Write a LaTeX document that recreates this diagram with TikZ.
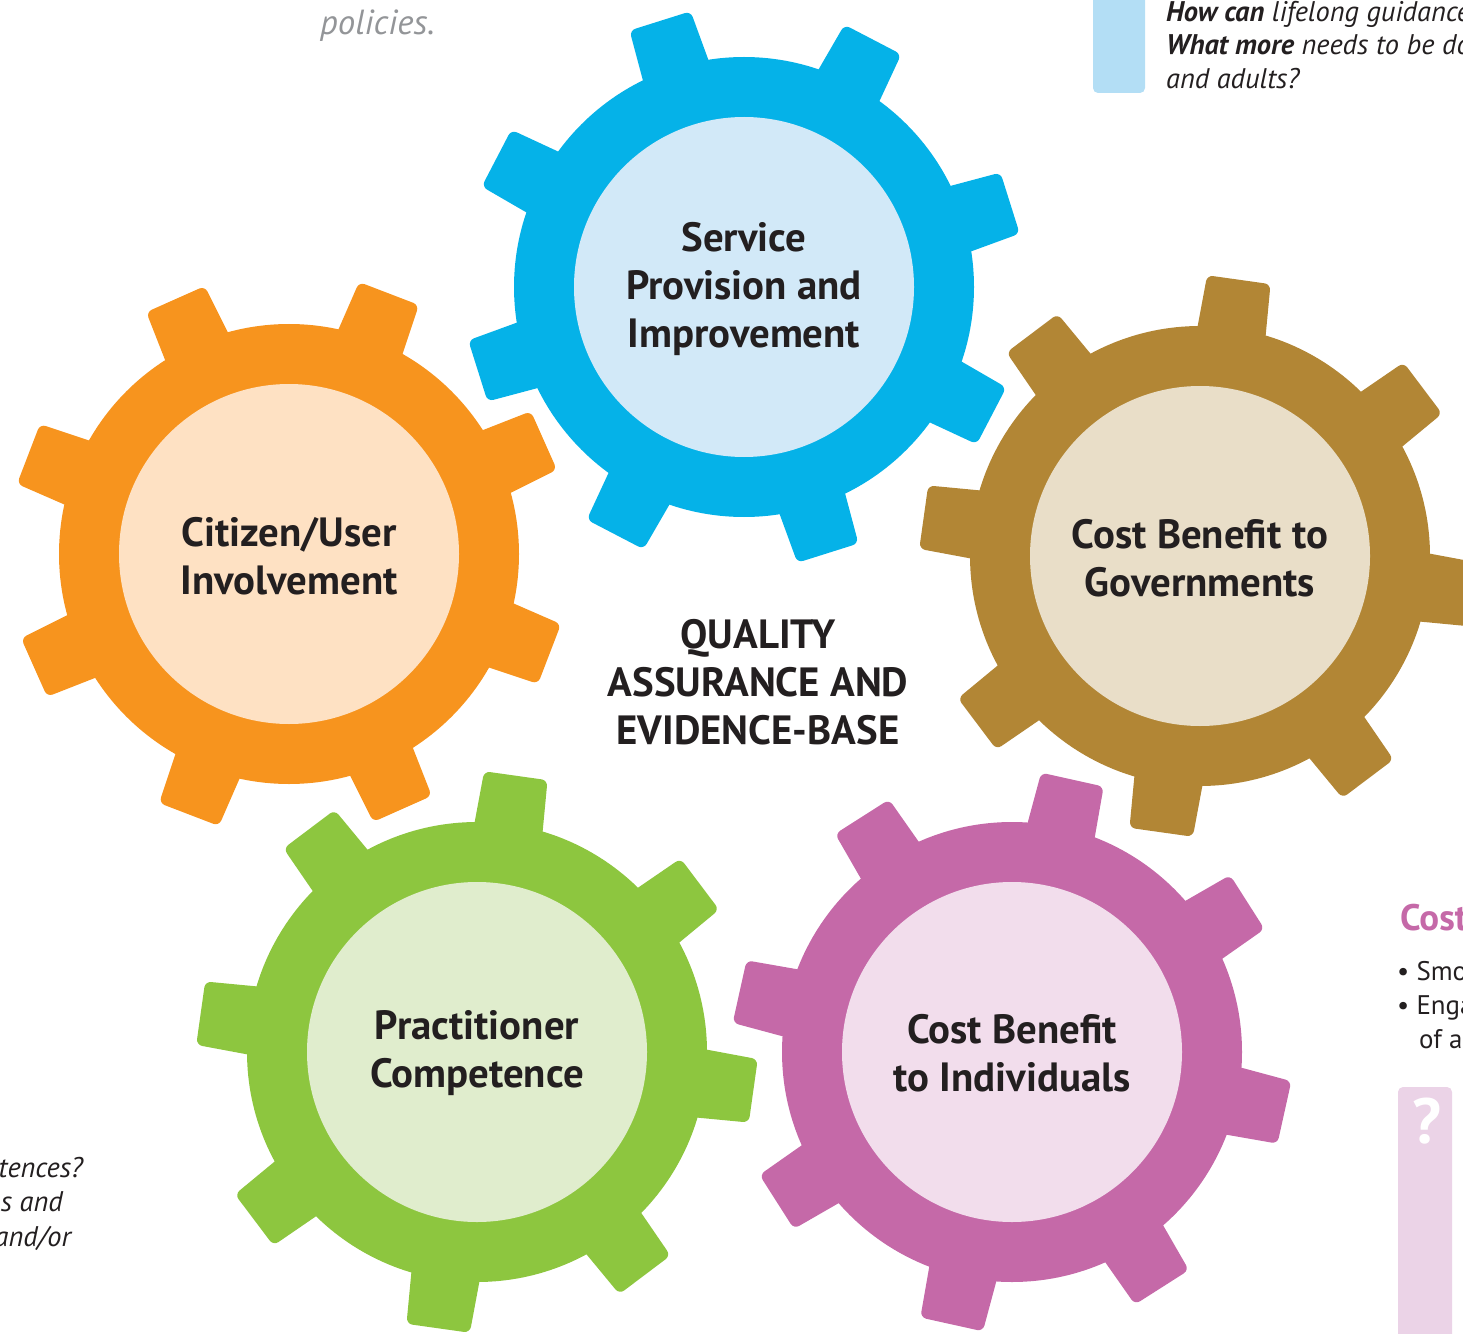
\documentclass[tikz,border=0pt]{standalone}
\usepackage{fontspec}
\setmainfont{PT Sans}
\definecolor{bluegear}{RGB}{5,178,232}
\definecolor{bluein}{RGB}{210,233,248}
\definecolor{orangegear}{RGB}{247,148,30}
\definecolor{orangein}{RGB}{254,225,195}
\definecolor{browngear}{RGB}{178,134,53}
\definecolor{brownin}{RGB}{233,222,200}
\definecolor{greengear}{RGB}{141,198,63}
\definecolor{greenin}{RGB}{224,237,205}
\definecolor{pinkgear}{RGB}{197,105,168}
\definecolor{pinkin}{RGB}{242,221,236}
\definecolor{darktext}{RGB}{35,31,32}
\definecolor{graytext}{RGB}{147,149,152}
\definecolor{sidebluebar}{RGB}{179,222,245}
\definecolor{sidepinkbar}{RGB}{235,211,231}
\newcommand\drawgear[5]{%
  \begin{scope}[shift={(#1,#2)}]
    \fill[#4] (0,0) circle[radius=230];
    \foreach \k in {0,...,7}{%
      \fill[#4, rotate={#3+45*\k}, rounded corners=6] (190,-36) -- (279,-32) -- (279,32) -- (190,36) -- cycle;
    }
    \fill[#5] (0,0) circle[radius=170];
  \end{scope}}
\tikzset{
  gearlabel/.style={text=darktext, font=\fontsize{41}{48}\selectfont\bfseries, align=center, inner sep=0pt},
  sidetext/.style={text=darktext, font=\fontsize{28.5}{34}\selectfont\itshape, inner sep=0pt},
  bullettext/.style={text=darktext, font=\fontsize{27}{34}\selectfont, inner sep=0pt},
}
\begin{document}
\begin{tikzpicture}[x=1bp,y=-1bp]
\useasboundingbox (0,0) rectangle (1463,1334);
\clip (0,0) rectangle (1463,1334);

% side elements
\fill[sidebluebar, rounded corners=5] (1093,-20) rectangle (1145,93);
\fill[sidepinkbar, rounded corners=5] (1398,1087) rectangle (1452,1360);
\node[text=white, font=\fontsize{64}{64}\selectfont\bfseries, inner sep=0pt] (qmark) at (1427,1121) {?};

\node[anchor=base west, text=graytext, font=\fontsize{35}{40}\selectfont\itshape, inner sep=0pt] (policies) at (320,35) {policies.};

\node[anchor=base west, sidetext] (q1) at (1166,22) {\textbf{How can} lifelong guidance};
\node[anchor=base west, sidetext] (q2) at (1166,55) {\textbf{What more} needs to be done};
\node[anchor=base west, sidetext] (q3) at (1166,89) {and adults?};

\node[anchor=base west, text=pinkgear, font=\fontsize{37}{44}\selectfont\bfseries, inner sep=0pt] (costhead) at (1400,930) {Cost};
\node[anchor=base west, bullettext] (b1) at (1397,980) {\textbullet\ Smo};
\node[anchor=base west, bullettext] (b2) at (1397,1014) {\textbullet\ Enga};
\node[anchor=base west, bullettext] (b3) at (1419,1048) {of a};

\node[anchor=base east, sidetext] (l1) at (83,1177) {tences?};
\node[anchor=base east, sidetext] (l2) at (63,1211) {s and};
\node[anchor=base east, sidetext] (l3) at (71,1246) {and/or};

% gears
\drawgear{744}{287}{17.5}{bluegear}{bluein}
\drawgear{289}{554}{24}{orangegear}{orangein}
\drawgear{1200}{556}{37}{browngear}{brownin}
\drawgear{477}{1052}{37}{greengear}{greenin}
\drawgear{1012}{1052}{32.5}{pinkgear}{pinkin}

% labels
\node[gearlabel] (service) at (744,289) {Service\\Provision and\\Improvement};
\node[gearlabel] (citizen) at (289,556) {Citizen/User\\Involvement};
\node[gearlabel] (govt) at (1200,558) {Cost Benefit to\\Governments};
\node[gearlabel] (pract) at (477,1053) {Practitioner\\Competence};
\node[gearlabel] (indiv) at (1012,1053) {Cost Benefit\\to Individuals};
\node[gearlabel] (quality) at (758,682) {QUALITY\\ASSURANCE AND\\EVIDENCE-BASE};
\end{tikzpicture}
\end{document}
